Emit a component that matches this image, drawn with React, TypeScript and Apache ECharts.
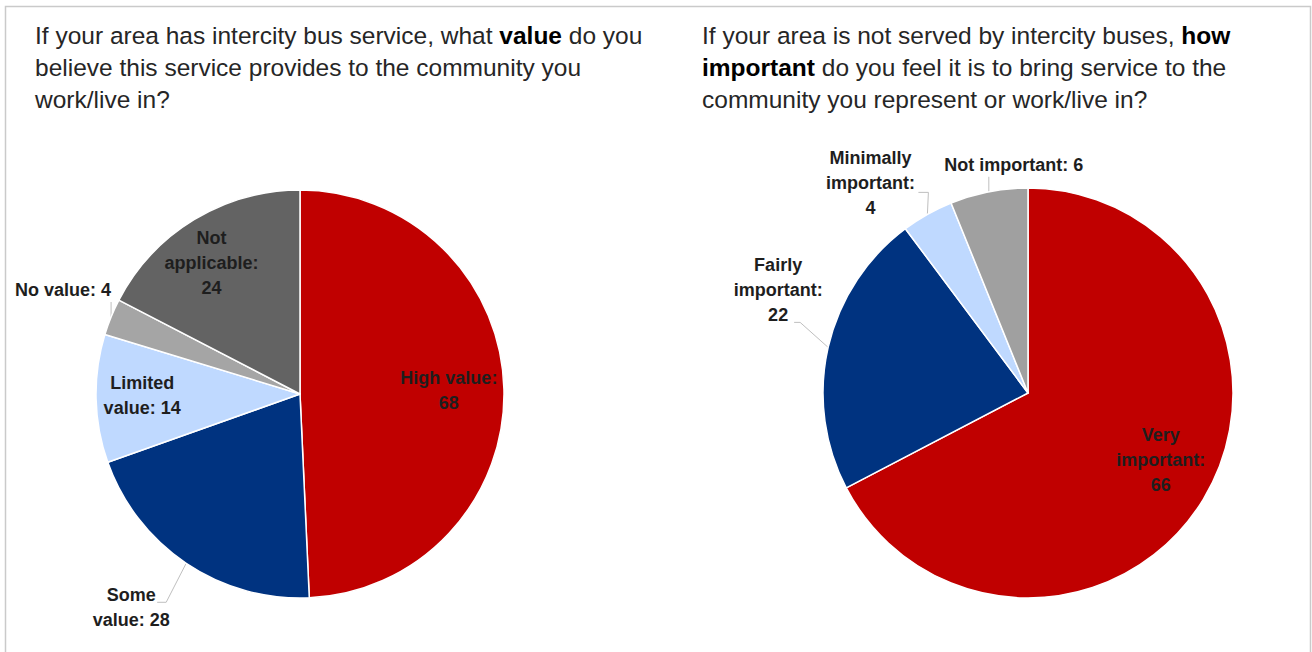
import React, { useEffect, useRef } from 'react';
import * as echarts from 'echarts';

// ---------- data ----------
const leftCategories = ['High value', 'Some value', 'Limited value', 'No value', 'Not applicable'];
const leftValues = [68, 28, 14, 4, 24];
const leftLabelFormats = ['High value:\n{c}', 'Some\nvalue: {c}', 'Limited\nvalue: {c}', 'No value: {c}', 'Not\napplicable:\n{c}'];
const leftColors = ['#C00000', '#003380', '#BFD9FF', '#A5A5A5', '#636363'];
const leftInside = [true, false, true, false, true];

const rightCategories = ['Very important', 'Fairly important', 'Minimally important', 'Not important'];
const rightValues = [66, 22, 4, 6];
const rightLabelFormats = ['Very\nimportant:\n{c}', 'Fairly\nimportant:\n{c}', 'Minimally\nimportant:\n{c}', 'Not important: {c}'];
const rightColors = ['#C00000', '#003380', '#BFD9FF', '#A0A0A0'];
const rightInside = [true, false, false, false];

const leftTitle =
  '{n|If your area has intercity bus service, what }{b|value}{n| do you}\n' +
  '{n|believe this service provides to the community you}\n' +
  '{n|work/live in?}';
const rightTitle =
  '{n|If your area is not served by intercity buses, }{b|how}\n' +
  '{b|important}{n| do you feel it is to bring service to the}\n' +
  '{n|community you represent or work/live in?}';

// ---------- layout / style ----------
const FONT = '"Liberation Sans", Arial, sans-serif';
const TEXT = '#262626';
const LABEL = '#1E1E1E';
const PIES = [
  { center: [300, 394], r: 204 },
  { center: [1028, 393], r: 205 },
];
// inside label nudges [dx, dy]
const insideShift: Record<number, number[]>[] = [
  { 0: [-2, 0], 2: [-7, -2], 4: [-10, -2] },
  { 0: [3, -12] },
];
// outside label placement relative to the slice-edge anchor point
type OutCfg = { label: number[]; line: number[][] };
const outsideCfg: Record<number, OutCfg>[] = [
  {
    1: { label: [-55, 44], line: [[-20, 39], [-29, 39]] },
    3: { label: [-48, -27], line: [[0, -15]] },
  },
  {
    1: { label: [-50, -57], line: [[-28, -25], [-34, -25]] },
    2: { label: [-57, -31], line: [[1, -22], [-9, -22]] },
    3: { label: [25, -27], line: [[0, -15]] },
  },
];

function buildSeries(
  idx: number,
  cats: string[],
  vals: number[],
  formats: string[],
  colors: string[],
  inside: boolean[]
) {
  const pie = PIES[idx];
  const labelBase = {
    fontFamily: FONT,
    fontSize: 18,
    fontWeight: 'bold' as const,
    lineHeight: 25,
    color: LABEL,
    align: 'center' as const,
  };
  const main = {
    type: 'pie',
    center: pie.center,
    radius: pie.r,
    startAngle: 90,
    clockwise: true,
    avoidLabelOverlap: false,
    silent: true,
    itemStyle: { borderColor: '#ffffff', borderWidth: 1.5 },
    label: { ...labelBase, position: 'outside' },
    labelLine: { show: true, lineStyle: { color: '#BFBFBF', width: 1 }, length: 10, length2: 5 },
    labelLayout: (p: any) => {
      const cfg = outsideCfg[idx][p.dataIndex];
      if (!cfg || !p.labelLinePoints) return {};
      const p0 = p.labelLinePoints[0];
      return {
        x: p0[0] + cfg.label[0],
        y: p0[1] + cfg.label[1],
        align: 'center',
        verticalAlign: 'middle',
        labelLinePoints: [p0, ...cfg.line.map((d) => [p0[0] + d[0], p0[1] + d[1]])],
      };
    },
    data: cats.map((c, i) => ({
      name: c,
      value: vals[i],
      itemStyle: { color: colors[i] },
      label: { show: !inside[i], formatter: formats[i] },
      labelLine: { show: !inside[i] },
    })),
  };
  const insideSeries = {
    type: 'pie',
    center: pie.center,
    radius: [0, pie.r * 1.45],
    startAngle: 90,
    clockwise: true,
    avoidLabelOverlap: false,
    silent: true,
    z: 3,
    itemStyle: { color: 'rgba(0,0,0,0)', borderWidth: 0 },
    label: { ...labelBase, position: 'inside' },
    labelLine: { show: false },
    labelLayout: (p: any) => {
      const s = insideShift[idx][p.dataIndex];
      return s ? { dx: s[0], dy: s[1] } : {};
    },
    data: cats.map((c, i) => ({
      name: c,
      value: vals[i],
      label: { show: inside[i], formatter: formats[i] },
    })),
  };
  return [main, insideSeries];
}

export default function App() {
  const ref = useRef<HTMLDivElement>(null);
  useEffect(() => {
    document.body.style.margin = '0';
    if (!ref.current) return;
    const chart = echarts.init(ref.current, undefined, { renderer: 'svg' });
    const base = { fontFamily: FONT, fontSize: 24.5, lineHeight: 32, color: TEXT };
    const titleStyle = {
      ...base,
      fontWeight: 'normal' as const,
      rich: {
        n: { ...base, fontWeight: 'normal' as const },
        b: { ...base, color: '#000000', fontWeight: 'bold' as const },
      },
    };
    chart.setOption({
      animation: false,
      backgroundColor: '#ffffff',
      title: [
        { text: leftTitle, left: 35, top: 19, padding: 0, textStyle: titleStyle },
        { text: rightTitle, left: 702, top: 19, padding: 0, textStyle: titleStyle },
      ],
      graphic: [
        {
          type: 'rect',
          shape: { x: 5.5, y: 6.5, width: 1305, height: 700 },
          style: { fill: 'none', stroke: '#CACACA', lineWidth: 1.5 },
          silent: true,
          z: -1,
        },
      ],
      series: [
        ...buildSeries(0, leftCategories, leftValues, leftLabelFormats, leftColors, leftInside),
        ...buildSeries(1, rightCategories, rightValues, rightLabelFormats, rightColors, rightInside),
      ],
    });
    return () => chart.dispose();
  }, []);
  return <div ref={ref} style={{ width: 1312, height: 652 }} />;
}
